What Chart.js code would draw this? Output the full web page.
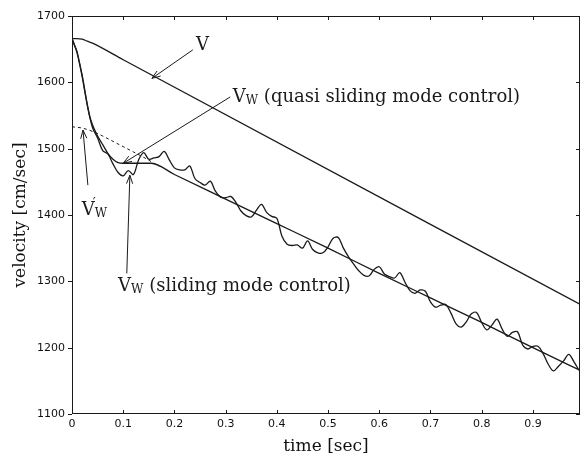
<!DOCTYPE html>
<html lang="en">
<head>
<meta charset="utf-8"/>
<title>Velocity vs time</title>
<script src="https://cdn.jsdelivr.net/npm/chart.js"></script>
<style>
  body { margin: 0; background: #fff; }
  #wrap { width: 582px; height: 457px; }
</style>
</head>
<body>
<div id="wrap"><canvas id="velChart" width="582" height="457"></canvas></div>
<script>
  // time base of the sliding mode trace [sec]
  const time = [0, 0.01, 0.02, 0.03, 0.04, 0.05, 0.06, 0.07, 0.08, 0.09,
    0.10, 0.11, 0.12, 0.13, 0.14, 0.15, 0.16, 0.17, 0.18, 0.19,
    0.20, 0.21, 0.22, 0.23, 0.24, 0.25, 0.26, 0.27, 0.28, 0.29,
    0.30, 0.31, 0.32, 0.33, 0.34, 0.35, 0.36, 0.37, 0.38, 0.39,
    0.40, 0.41, 0.42, 0.43, 0.44, 0.45, 0.46, 0.47, 0.48, 0.49,
    0.50, 0.51, 0.52, 0.53, 0.54, 0.55, 0.56, 0.57, 0.58, 0.59,
    0.60, 0.61, 0.62, 0.63, 0.64, 0.65, 0.66, 0.67, 0.68, 0.69,
    0.70, 0.71, 0.72, 0.73, 0.74, 0.75, 0.76, 0.77, 0.78, 0.79,
    0.80, 0.81, 0.82, 0.83, 0.84, 0.85, 0.86, 0.87, 0.88, 0.89,
    0.90, 0.91, 0.92, 0.93, 0.94, 0.95, 0.96, 0.97, 0.98, 0.99];

  // Vw, sliding mode control [cm/sec]
  const vwSliding = [1666, 1644, 1608, 1565, 1532, 1516, 1497, 1492, 1477, 1464,
    1459, 1467, 1461, 1483, 1494, 1484, 1486, 1488, 1496, 1483,
    1471, 1468, 1468, 1474, 1455, 1449, 1445, 1451, 1436, 1427,
    1426, 1428, 1419, 1406, 1399, 1397, 1407, 1416, 1404, 1398,
    1395, 1368, 1356, 1354, 1355, 1350, 1361, 1348, 1343, 1343,
    1352, 1365, 1366, 1350, 1337, 1326, 1316, 1309, 1308, 1318,
    1322, 1311, 1307, 1305, 1313, 1299, 1286, 1282, 1287, 1285,
    1269, 1261, 1264, 1265, 1252, 1236, 1231, 1239, 1251, 1253,
    1238, 1227, 1234, 1243, 1228, 1217, 1223, 1224, 1204, 1198,
    1202, 1202, 1191, 1175, 1165, 1172, 1180, 1190, 1179, 1166];

  // V (vehicle velocity)
  const vTime = [0, 0.01, 0.02, 0.03, 0.04, 0.1, 1.0];
  const vVehicle = [1666, 1666, 1665, 1662, 1659, 1634, 1262];

  // Vw, quasi sliding mode control
  const quasiTime = [0, 0.005, 0.01, 0.015, 0.02, 0.025, 0.03, 0.035, 0.04, 0.045,
    0.05, 0.06, 0.07, 0.08, 0.09, 0.1, 0.12, 0.14, 0.155, 0.2,
    0.3, 0.4, 0.5, 0.6, 0.7, 0.8, 0.9, 1.0];
  const vwQuasi = [1666, 1656, 1646, 1628, 1610, 1588, 1566, 1548, 1536, 1527,
    1519, 1506, 1493, 1484, 1479, 1478, 1478, 1478, 1478, 1461,
    1424, 1387, 1350, 1312, 1275, 1238, 1200, 1163];

  // V'w (reference wheel velocity, dashed)
  const refTime = [0, 0.02, 0.04, 0.06, 0.08, 0.1, 0.12, 0.14, 0.16, 0.17];
  const vwRef = [1533, 1531, 1526, 1519, 1511, 1503, 1495, 1487, 1478, 1473];

  const xTicks = [0, 0.1, 0.2, 0.3, 0.4, 0.5, 0.6, 0.7, 0.8, 0.9];
  const xTickLabels = ['0', '0.1', '0.2', '0.3', '0.4', '0.5', '0.6', '0.7', '0.8', '0.9'];
  const yTicks = [1100, 1200, 1300, 1400, 1500, 1600, 1700];

  const pairs = (xs, ys) => xs.map((x, i) => ({ x: x, y: ys[i] }));

  const ink = '#1a1a1a';
  const serif = '"DejaVu Serif", serif';

  // labels with arrows, in data units
  const notes = [
    { text: 'V', sub: '', prime: false, at: [0.242, 1656], from: [0.236, 1649], to: [0.156, 1606] },
    { text: 'V', sub: 'W', prime: false, rest: ' (quasi sliding mode control)', at: [0.314, 1578], from: [0.309, 1578], to: [0.100, 1478] },
    { text: 'V', sub: 'W', prime: true, at: [0.019, 1407], from: [0.031, 1445], to: [0.0215, 1528] },
    { text: 'V', sub: 'W', prime: false, rest: ' (sliding mode control)', at: [0.090, 1293], from: [0.107, 1312], to: [0.113, 1460] }
  ];

  const frameAndNotes = {
    id: 'frameAndNotes',
    afterDatasetsDraw(chart) {
      const { ctx, chartArea: a, scales: { x, y } } = chart;
      ctx.save();
      ctx.strokeStyle = ink;
      ctx.lineWidth = 1;
      ctx.strokeRect(a.left + 0.5, a.top + 0.5, a.right - a.left - 1, a.bottom - a.top - 1);

      ctx.beginPath();
      xTicks.forEach(v => {
        const px = Math.round(x.getPixelForValue(v)) + 0.5;
        ctx.moveTo(px, a.bottom); ctx.lineTo(px, a.bottom - 4);
        ctx.moveTo(px, a.top); ctx.lineTo(px, a.top + 4);
      });
      yTicks.forEach(v => {
        const py = Math.round(y.getPixelForValue(v)) + 0.5;
        ctx.moveTo(a.left, py); ctx.lineTo(a.left - 4, py);
        ctx.moveTo(a.right, py); ctx.lineTo(a.right - 4, py);
      });
      ctx.stroke();

      ctx.fillStyle = ink;
      ctx.lineWidth = 1;
      notes.forEach(n => {
        const fx = x.getPixelForValue(n.from[0]), fy = y.getPixelForValue(n.from[1]);
        const tx = x.getPixelForValue(n.to[0]), ty = y.getPixelForValue(n.to[1]);
        ctx.beginPath();
        ctx.moveTo(fx, fy); ctx.lineTo(tx, ty);
        const ang = Math.atan2(ty - fy, tx - fx);
        [0.35, -0.35].forEach(d => {
          ctx.moveTo(tx, ty);
          ctx.lineTo(tx - 9 * Math.cos(ang + d), ty - 9 * Math.sin(ang + d));
        });
        ctx.stroke();

        let px = x.getPixelForValue(n.at[0]);
        const py = y.getPixelForValue(n.at[1]);
        ctx.textBaseline = 'middle';
        ctx.textAlign = 'left';
        ctx.font = '18px ' + serif;
        ctx.fillText(n.text, px, py);
        px += ctx.measureText(n.text).width;
        if (n.prime) {
          ctx.font = '13px ' + serif;
          ctx.fillText('\u2032', px - 2, py - 7);
        }
        if (n.sub) {
          ctx.font = '12px ' + serif;
          ctx.fillText(n.sub, px, py + 4);
          px += ctx.measureText(n.sub).width;
        }
        if (n.rest) {
          ctx.font = '18px ' + serif;
          ctx.fillText(n.rest, px, py);
        }
      });
      ctx.restore();
    }
  };

  const lineStyle = { borderColor: ink, borderWidth: 1.3, pointRadius: 0, fill: false, cubicInterpolationMode: 'monotone' };

  new Chart(document.getElementById('velChart'), {
    type: 'line',
    data: {
      datasets: [
        Object.assign({ label: 'V', data: pairs(vTime, vVehicle) }, lineStyle),
        Object.assign({ label: 'Vw quasi', data: pairs(quasiTime, vwQuasi) }, lineStyle),
        Object.assign({ label: "V'w", data: pairs(refTime, vwRef), borderDash: [3, 3] }, lineStyle, { borderWidth: 1 }),
        Object.assign({ label: 'Vw sliding', data: pairs(time, vwSliding) }, lineStyle, { cubicInterpolationMode: 'default', tension: 0.35 })
      ]
    },
    options: {
      responsive: false,
      animation: false,
      events: [],
      layout: { padding: { top: 16, right: 2, left: 0, bottom: 0 } },
      plugins: { legend: { display: false }, tooltip: { enabled: false } },
      scales: {
        x: {
          type: 'linear',
          min: 0,
          max: 0.992,
          grid: { display: false, drawTicks: false },
          border: { display: false },
          afterBuildTicks: s => { s.ticks = xTicks.map(v => ({ value: v })); },
          afterFit: s => { s.height = 43; },
          ticks: {
            padding: 4,
            color: '#111',
            font: { family: '"DejaVu Sans", sans-serif', size: 11 },
            callback: (v, i) => xTickLabels[i]
          },
          title: {
            display: true,
            text: 'time [sec]',
            color: '#111',
            font: { family: serif, size: 17 },
            padding: { top: 0, bottom: 0 }
          }
        },
        y: {
          min: 1100,
          max: 1700,
          grid: { display: false, drawTicks: false },
          border: { display: false },
          afterBuildTicks: s => { s.ticks = yTicks.map(v => ({ value: v })); },
          afterFit: s => { s.width = 72; },
          ticks: {
            padding: 7,
            color: '#111',
            font: { family: '"DejaVu Sans", sans-serif', size: 11 },
            callback: v => String(v)
          },
          title: {
            display: true,
            text: 'velocity [cm/sec]',
            color: '#111',
            font: { family: serif, size: 17 },
            padding: { top: 10, bottom: 0 }
          }
        }
      }
    },
    plugins: [frameAndNotes]
  });
</script>
</body>
</html>
